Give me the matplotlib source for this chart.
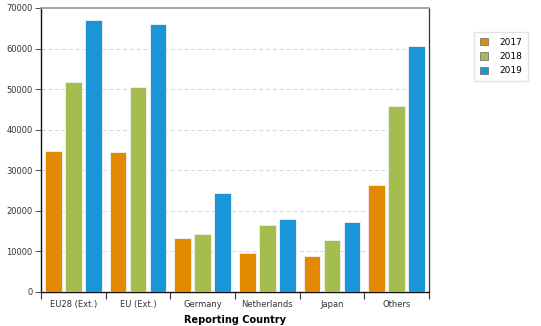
import numpy as np
import matplotlib
matplotlib.use("Agg")
import matplotlib.pyplot as plt

countries = ["EU28 (Ext.)", "EU (Ext.)", "Germany", "Netherlands", "Japan", "Others"]
years = ["2017", "2018", "2019"]
v2017 = [34800, 34500, 13300, 9600, 8900, 26400]
v2018 = [51800, 50500, 14300, 16500, 12800, 45800]
v2019 = [67000, 66000, 24400, 18000, 17300, 60600]
colors = ["#E38A00", "#A5BC4E", "#1B95D9"]

fig = plt.figure(figsize=(5.41, 3.26), dpi=100)
ax = fig.add_axes([0.0758, 0.1043, 0.7172, 0.8712])

x = np.arange(len(countries))
bw = 0.26
step = 0.31
for i, (vals, c, yr) in enumerate(zip([v2017, v2018, v2019], colors, years)):
    ax.bar(x + (i - 1) * step, vals, width=bw, color=c, edgecolor="#f2f2f2",
           linewidth=0.6, label=yr, zorder=3)

ax.set_xlim(-0.5, len(countries) - 0.5)
ax.set_ylim(0, 70000)
ax.set_yticks(np.arange(0, 70001, 10000))
ax.yaxis.grid(True, linestyle=(0, (4, 3)), color="#d6d6d6", linewidth=0.7, zorder=0)

ax.set_xticks(x)
ax.set_xticklabels(countries, fontsize=6, color="#333333")
ax.tick_params(axis="x", length=0, pad=6)
ax.set_xticks(np.arange(-0.5, len(countries), 1), minor=True)
ax.tick_params(axis="x", which="minor", length=5, width=0.8, color="#333333")
ax.tick_params(axis="y", labelsize=6, length=4, width=0.6, colors="#333333", pad=2)

for side in ["left", "bottom"]:
    ax.spines[side].set_color("#111111")
    ax.spines[side].set_linewidth(1.0)
ax.spines["top"].set_color("#999999")
ax.spines["top"].set_linewidth(1.2)
ax.spines["right"].set_color("#333333")
ax.spines["right"].set_linewidth(0.9)

ax.set_xlabel("Reporting Country", fontsize=7, fontweight="bold", labelpad=4)

leg = fig.legend(loc="upper left", bbox_to_anchor=(0.868, 0.915), fontsize=6.5,
                 frameon=True, fancybox=False, edgecolor="#dddddd",
                 handlelength=0.9, handleheight=0.9, handletextpad=1.3,
                 labelspacing=0.6, borderpad=0.6)
for h in leg.legend_handles:
    h.set_edgecolor("#777777")
    h.set_linewidth(0.6)

fig.savefig("out.png", dpi=100)
